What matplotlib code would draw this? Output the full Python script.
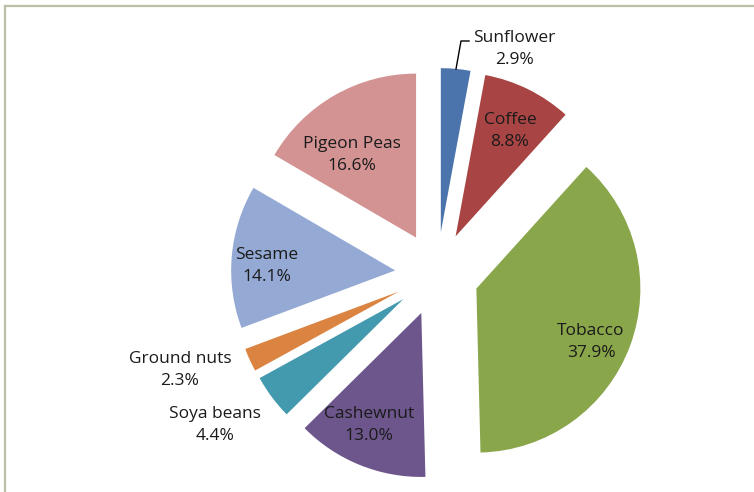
import matplotlib
matplotlib.use("Agg")
import matplotlib.pyplot as plt
from matplotlib.lines import Line2D

# Data
categories = ["Sunflower", "Coffee", "Tobacco", "Cashewnut", "Soya beans",
              "Ground nuts", "Sesame", "Pigeon Peas"]
values = [2.9, 8.8, 37.9, 13.0, 4.4, 2.3, 14.1, 16.6]
colors = ["#4a74ab", "#a84544", "#89a64b", "#6d568c", "#4399ae",
          "#db8442", "#94a9d3", "#d39393"]

# Layout (pixel-like coordinates, y measured from bottom)
W, H = 754, 492
center = (437, H - 274)
radius = 164
explode_frac = 0.256
label_pos = [(514, H - 49), (510, H - 131), (591, H - 342), (369, H - 425),
             (215, H - 425), (180, H - 370), (267, H - 266), (352, H - 155)]

plt.rcParams['font.family'] = ['Open Sans', 'DejaVu Sans']

fig = plt.figure(figsize=(W / 100, H / 100), dpi=100)
ax = fig.add_axes([0, 0, 1, 1])

ax.pie(values, colors=colors, startangle=90, counterclock=False,
       radius=radius, center=center,
       explode=[explode_frac * radius] * len(values),
       wedgeprops=dict(linewidth=0), frame=True)
ax.set_xlim(0, W)
ax.set_ylim(0, H)
ax.axis("off")

for cat, val, (x, y) in zip(categories, values, label_pos):
    ax.text(x, y, f"{cat}\n{val:.1f}%", ha="center", va="center",
            fontsize=12.5, color="#1a1a1a", linespacing=1.55)

# leader line for Sunflower
ax.add_line(Line2D([456, 461, 469], [H - 69, H - 41, H - 41],
                   color="black", lw=1.0))

# border
bc = "#b9c0a8"
ax.add_line(Line2D([5, 5], [0, H - 6], color=bc, lw=1.6))
ax.add_line(Line2D([5, W], [H - 6, H - 6], color=bc, lw=1.6))

fig.savefig("out.png", dpi=100)
